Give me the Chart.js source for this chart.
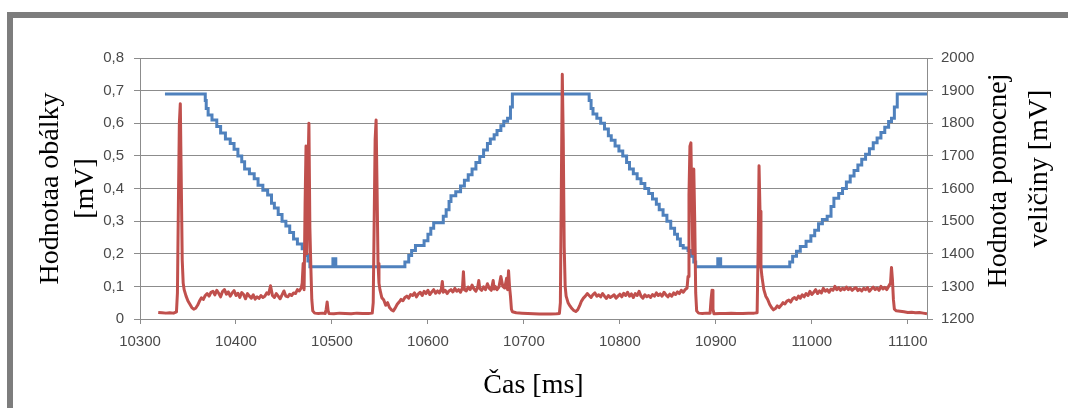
<!DOCTYPE html>
<html>
<head>
<meta charset="utf-8">
<script src="https://cdn.jsdelivr.net/npm/chart.js@4.4.0/dist/chart.umd.min.js"></script>
<style>
  body { margin: 0; background: #fff; overflow: hidden; }
  #frame { position: absolute; left: 7px; top: 12px; width: 1200px; height: 600px;
           border-top: 6px solid #7d7d7d; border-left: 6px solid #7d7d7d; }
  #chart { position: absolute; left: 0; top: 0; }
</style>
</head>
<body>
<div id="frame"></div>
<canvas id="chart" width="1068" height="408"></canvas>
<script>
// envelope (red, left axis) - time [ms] / value [mV]
const envTime = [
  10319, 10323, 10327, 10331, 10335, 10338, 10339, 10340, 10341, 10342, 10343, 10344, 10345, 10346, 10348, 10350,
  10352, 10354, 10356, 10358, 10360, 10362, 10364, 10366, 10368,
  10370, 10372, 10374, 10376, 10378, 10380, 10382, 10384, 10386, 10388, 10390, 10392, 10394, 10396, 10398, 10400,
  10402, 10404, 10406, 10408, 10410, 10412, 10414, 10416, 10418, 10420, 10422, 10424, 10426, 10428, 10430, 10432,
  10434, 10436, 10438, 10440, 10442, 10444, 10446, 10448, 10450, 10452, 10454, 10456, 10458, 10460, 10462, 10464,
  10466, 10468,
  10469, 10470, 10471, 10472, 10473, 10474, 10475, 10476, 10477, 10478, 10479, 10480, 10482,
  10486, 10490, 10493, 10494, 10495, 10496, 10497, 10502, 10508, 10514, 10520, 10526, 10532, 10538, 10542,
  10543, 10544, 10545, 10546, 10547, 10548, 10549, 10550, 10552, 10554, 10556, 10558, 10560, 10562, 10564, 10566,
  10568, 10570, 10572, 10574, 10576, 10578, 10580, 10582, 10584, 10586, 10588, 10590, 10592, 10594, 10596, 10598,
  10600, 10602, 10604, 10606, 10608, 10610, 10612, 10614, 10615, 10616, 10618, 10620, 10622, 10624, 10626, 10628,
  10630, 10632, 10634, 10636, 10637, 10638, 10640, 10642, 10644, 10646, 10648, 10650, 10652, 10653, 10654, 10656,
  10658, 10660, 10662, 10664, 10666, 10668, 10669, 10670, 10672, 10674, 10676, 10678, 10680, 10682, 10683, 10684,
  10685, 10686, 10687, 10688, 10692, 10698, 10704, 10710, 10716, 10722, 10728, 10734, 10737,
  10738, 10739, 10740, 10741, 10742, 10743, 10744, 10746, 10748, 10750, 10752, 10754, 10756, 10758, 10760, 10762,
  10764, 10766, 10768, 10770, 10772, 10774, 10776, 10778, 10780, 10782, 10784, 10786, 10788, 10790, 10792, 10794,
  10796, 10798, 10800, 10802, 10804, 10806, 10808, 10810, 10812, 10814, 10816, 10818, 10820, 10822, 10824, 10826,
  10828, 10830, 10832, 10834, 10836, 10838, 10840, 10842, 10844, 10846, 10848, 10850, 10852, 10854, 10856, 10858,
  10860, 10862, 10864, 10866, 10868, 10870,
  10871, 10872, 10873, 10874, 10875, 10876, 10877, 10878, 10879, 10880, 10882, 10886, 10890, 10894, 10895, 10896,
  10897, 10898, 10904, 10910, 10916, 10922, 10928, 10934, 10940, 10943,
  10944, 10945, 10946, 10947, 10948, 10949, 10950, 10952, 10954, 10956, 10958, 10960, 10962, 10964, 10966, 10968,
  10970, 10972, 10974, 10976, 10978, 10980, 10982, 10984, 10986, 10988, 10990, 10992, 10994, 10996, 10998, 11000,
  11002, 11004, 11006, 11008, 11010, 11012, 11014, 11016, 11018, 11020, 11022, 11024, 11026, 11028, 11030, 11032,
  11034, 11036, 11038, 11040, 11042, 11044, 11046, 11048, 11050, 11052, 11054, 11056, 11058, 11060, 11062, 11064,
  11066, 11068, 11070, 11072, 11074, 11076, 11078, 11080, 11082, 11083, 11084, 11085, 11086, 11088, 11092, 11096,
  11100, 11104, 11108, 11112, 11116, 11120
];
const envValue = [
  0.020, 0.019, 0.018, 0.019, 0.018, 0.022, 0.08, 0.35, 0.60, 0.66, 0.42, 0.18, 0.11, 0.09, 0.07, 0.055,
  0.045, 0.035, 0.030, 0.033, 0.042, 0.055, 0.065, 0.060, 0.072,
  0.078, 0.070, 0.082, 0.085, 0.074, 0.088, 0.079, 0.068, 0.084, 0.090, 0.076, 0.083, 0.070, 0.080, 0.087, 0.072,
  0.079, 0.066, 0.081, 0.075, 0.062, 0.078, 0.070, 0.064, 0.074, 0.061, 0.068, 0.063, 0.072, 0.066, 0.070, 0.080,
  0.076, 0.102, 0.072, 0.066, 0.078, 0.070, 0.062, 0.074, 0.086, 0.070, 0.068, 0.076, 0.072, 0.080, 0.078, 0.090,
  0.086, 0.095,
  0.11, 0.17, 0.09, 0.35, 0.53, 0.20, 0.45, 0.60, 0.28, 0.16, 0.06, 0.025, 0.018,
  0.017, 0.018, 0.017, 0.030, 0.052, 0.025, 0.017, 0.016, 0.018, 0.017, 0.016, 0.018, 0.017, 0.017, 0.018,
  0.05, 0.30, 0.55, 0.61, 0.40, 0.17, 0.11, 0.09, 0.065, 0.058, 0.042, 0.050, 0.035, 0.028, 0.025, 0.034,
  0.045, 0.052, 0.060, 0.056, 0.066, 0.070, 0.064, 0.075, 0.072, 0.080, 0.068, 0.077, 0.082, 0.072, 0.085, 0.078,
  0.088, 0.075, 0.083, 0.090, 0.079, 0.086, 0.080, 0.092, 0.115, 0.082, 0.088, 0.078, 0.086, 0.090, 0.083, 0.094,
  0.085, 0.090, 0.082, 0.096, 0.145, 0.090, 0.086, 0.098, 0.090, 0.104, 0.092, 0.085, 0.100, 0.118, 0.093, 0.088,
  0.099, 0.090, 0.108, 0.094, 0.088, 0.118, 0.092, 0.100, 0.090, 0.098, 0.130, 0.100, 0.095, 0.125, 0.090, 0.148,
  0.100, 0.070, 0.030, 0.022, 0.019, 0.018, 0.017, 0.016, 0.015, 0.015, 0.015, 0.016, 0.017,
  0.05, 0.40, 0.75, 0.55, 0.22, 0.10, 0.07, 0.050, 0.040, 0.032, 0.026, 0.023, 0.028, 0.040, 0.055, 0.064,
  0.070, 0.078, 0.072, 0.066, 0.075, 0.080, 0.070, 0.074, 0.068, 0.078, 0.070, 0.063, 0.072, 0.066, 0.070, 0.074,
  0.064, 0.070, 0.076, 0.068, 0.079, 0.072, 0.082, 0.070, 0.077, 0.066, 0.078, 0.072, 0.085, 0.070, 0.064, 0.074,
  0.068, 0.072, 0.066, 0.075, 0.070, 0.080, 0.072, 0.077, 0.070, 0.082, 0.074, 0.068, 0.076, 0.070, 0.080, 0.075,
  0.083, 0.078, 0.088, 0.082, 0.090, 0.095,
  0.13, 0.38, 0.53, 0.54, 0.35, 0.20, 0.46, 0.30, 0.08, 0.025, 0.018, 0.017, 0.018, 0.018, 0.060, 0.088,
  0.030, 0.016, 0.017, 0.017, 0.018, 0.017, 0.017, 0.018, 0.018, 0.019,
  0.20, 0.47, 0.33, 0.16, 0.13, 0.11, 0.09, 0.070, 0.060, 0.045, 0.035, 0.028, 0.032, 0.040, 0.035, 0.042,
  0.050, 0.046, 0.055, 0.058, 0.052, 0.062, 0.066, 0.060, 0.070, 0.064, 0.074, 0.068, 0.078, 0.072, 0.085, 0.075,
  0.082, 0.090, 0.078, 0.086, 0.080, 0.094, 0.085, 0.090, 0.082, 0.092, 0.088, 0.100, 0.090, 0.096, 0.088, 0.094,
  0.090, 0.098, 0.090, 0.095, 0.088, 0.093, 0.096, 0.087, 0.092, 0.086, 0.094, 0.090, 0.096, 0.085, 0.092, 0.098,
  0.090, 0.095, 0.088, 0.100, 0.092, 0.097, 0.090, 0.100, 0.110, 0.158, 0.120, 0.060, 0.030, 0.025, 0.024, 0.022,
  0.020, 0.021, 0.019, 0.020, 0.018, 0.016
];

// auxiliary quantity (blue, right axis) - each point starts a new step level
const auxTime = [
  10326, 10368, 10369, 10371, 10375, 10380, 10384, 10389, 10394, 10398, 10402, 10406, 10409, 10414, 10419, 10423,
  10428, 10433, 10437, 10440, 10444, 10448, 10452, 10456, 10460, 10464, 10469, 10473, 10475, 10477, 10501, 10504,
  10576, 10580, 10583, 10587, 10596, 10600, 10603, 10606, 10616, 10619, 10622, 10624, 10629, 10634, 10638, 10642,
  10646, 10650, 10654, 10658, 10662, 10665, 10669, 10672, 10676, 10679, 10683, 10686, 10688,
  10768, 10770, 10772, 10776, 10780, 10784, 10788, 10791, 10795, 10799, 10803, 10807, 10810, 10814, 10818, 10822,
  10826, 10830, 10834, 10838, 10841, 10845, 10849, 10853, 10857, 10860, 10863, 10866, 10871, 10874, 10877, 10879,
  10902, 10905,
  10977, 10980, 10984, 10988, 10994, 10999, 11003, 11007, 11011, 11016, 11020, 11023, 11028, 11032, 11036, 11040,
  11044, 11048, 11052, 11056, 11060, 11064, 11068, 11072, 11076, 11080, 11083, 11086, 11089, 11120
];
const auxValue = [
  1890, 1870, 1845, 1825, 1810, 1790, 1770, 1752, 1738, 1720, 1700, 1682, 1660, 1645, 1630, 1610,
  1595, 1580, 1555, 1540, 1520, 1500, 1485, 1465, 1445, 1430, 1415, 1395, 1378, 1360, 1385, 1360,
  1375, 1395, 1410, 1425, 1440, 1460, 1478, 1495, 1515, 1535, 1560, 1578, 1590, 1608, 1625, 1642,
  1660, 1680, 1698, 1718, 1738, 1752, 1765, 1778, 1792, 1806, 1815, 1850, 1890,
  1870, 1845, 1828, 1815, 1800, 1782, 1762, 1748, 1730, 1715, 1700, 1680, 1660, 1645, 1630, 1615,
  1600, 1585, 1568, 1552, 1535, 1518, 1500, 1478, 1460, 1445, 1425, 1418, 1410, 1392, 1375, 1360,
  1385, 1360,
  1375, 1392, 1408, 1422, 1438, 1455, 1472, 1492, 1505, 1515, 1545, 1570, 1585, 1600, 1620, 1638,
  1655, 1672, 1690, 1705, 1722, 1740, 1755, 1772, 1788, 1805, 1815, 1850, 1890, 1890
];

const leftTitle = ['Hodnotaa obálky', '[mV]'];
const rightTitle = ['Hodnota pomocnej', 'veličiny [mV]'];
const xTitle = 'Čas [ms]';

const gridCol = '#8c8c8c';
const tickCol = '#4a4a4a';
const tickFont = {family: 'Liberation Sans', size: 15};
const titleFont = {family: 'Liberation Serif', size: 28};

// right axis title reads bottom-to-top, so draw it here
const rightTitlePlugin = {
  id: 'rightTitle',
  afterDraw(chart) {
    const {ctx, chartArea} = chart;
    const cy = (chartArea.top + chartArea.bottom) / 2;
    ctx.save();
    ctx.font = '28px "Liberation Serif"';
    ctx.fillStyle = '#000';
    ctx.textAlign = 'center';
    ctx.textBaseline = 'middle';
    ctx.translate(chartArea.right + 72, cy - 8);
    ctx.rotate(-Math.PI / 2);
    ctx.fillText(rightTitle[0], 0, 0);
    ctx.fillText(rightTitle[1], 12, 41);
    ctx.restore();
  }
};

const config = {
  type: 'line',
  data: {
    datasets: [
      {
        label: 'obálka',
        data: envTime.map((t, i) => ({x: t, y: envValue[i]})),
        yAxisID: 'y',
        borderColor: '#c0504d',
        borderWidth: 3,
        borderJoinStyle: 'round',
        pointRadius: 0,
        tension: 0
      },
      {
        label: 'pomocná veličina',
        data: auxTime.map((t, i) => ({x: t, y: auxValue[i]})),
        yAxisID: 'y2',
        borderColor: '#4f81bd',
        borderWidth: 3,
        stepped: true,
        pointRadius: 0
      }
    ]
  },
  options: {
    responsive: false,
    animation: false,
    layout: {padding: {top: 58, left: 0, right: 0, bottom: 0}},
    plugins: {legend: {display: false}, tooltip: {enabled: false}},
    scales: {
      x: {
        type: 'linear',
        min: 10300,
        max: 11120,
        afterFit: s => { s.height = 89; },
        ticks: {stepSize: 100, includeBounds: false, color: tickCol, font: tickFont, padding: 9,
                callback: v => String(v)},
        grid: {drawOnChartArea: false, drawTicks: true, tickLength: 5, color: gridCol},
        border: {color: gridCol},
        title: {display: true, text: xTitle, color: '#000', font: titleFont, padding: {top: 0, bottom: 6}}
      },
      y: {
        position: 'left',
        min: 0,
        max: 0.8,
        afterFit: s => { s.width = 140; },
        ticks: {stepSize: 0.1, color: tickCol, font: tickFont, padding: 10,
                callback: v => v === 0 ? '0' : v.toFixed(1).replace('.', ',')},
        grid: {color: gridCol, tickLength: 6},
        border: {color: gridCol},
        title: {display: true, text: leftTitle, color: '#000', font: {family: 'Liberation Serif', size: 28, lineHeight: 1.25},
                padding: {top: 33, bottom: 0}}
      },
      y2: {
        position: 'right',
        min: 1200,
        max: 2000,
        afterFit: s => { s.width = 141; },
        ticks: {stepSize: 100, color: tickCol, font: tickFont, padding: 8, callback: v => String(v)},
        grid: {drawOnChartArea: false, tickLength: 6, color: gridCol},
        border: {color: gridCol}
      }
    }
  },
  plugins: [rightTitlePlugin]
};

const chart = new Chart(document.getElementById('chart'), config);
</script>
</body>
</html>
